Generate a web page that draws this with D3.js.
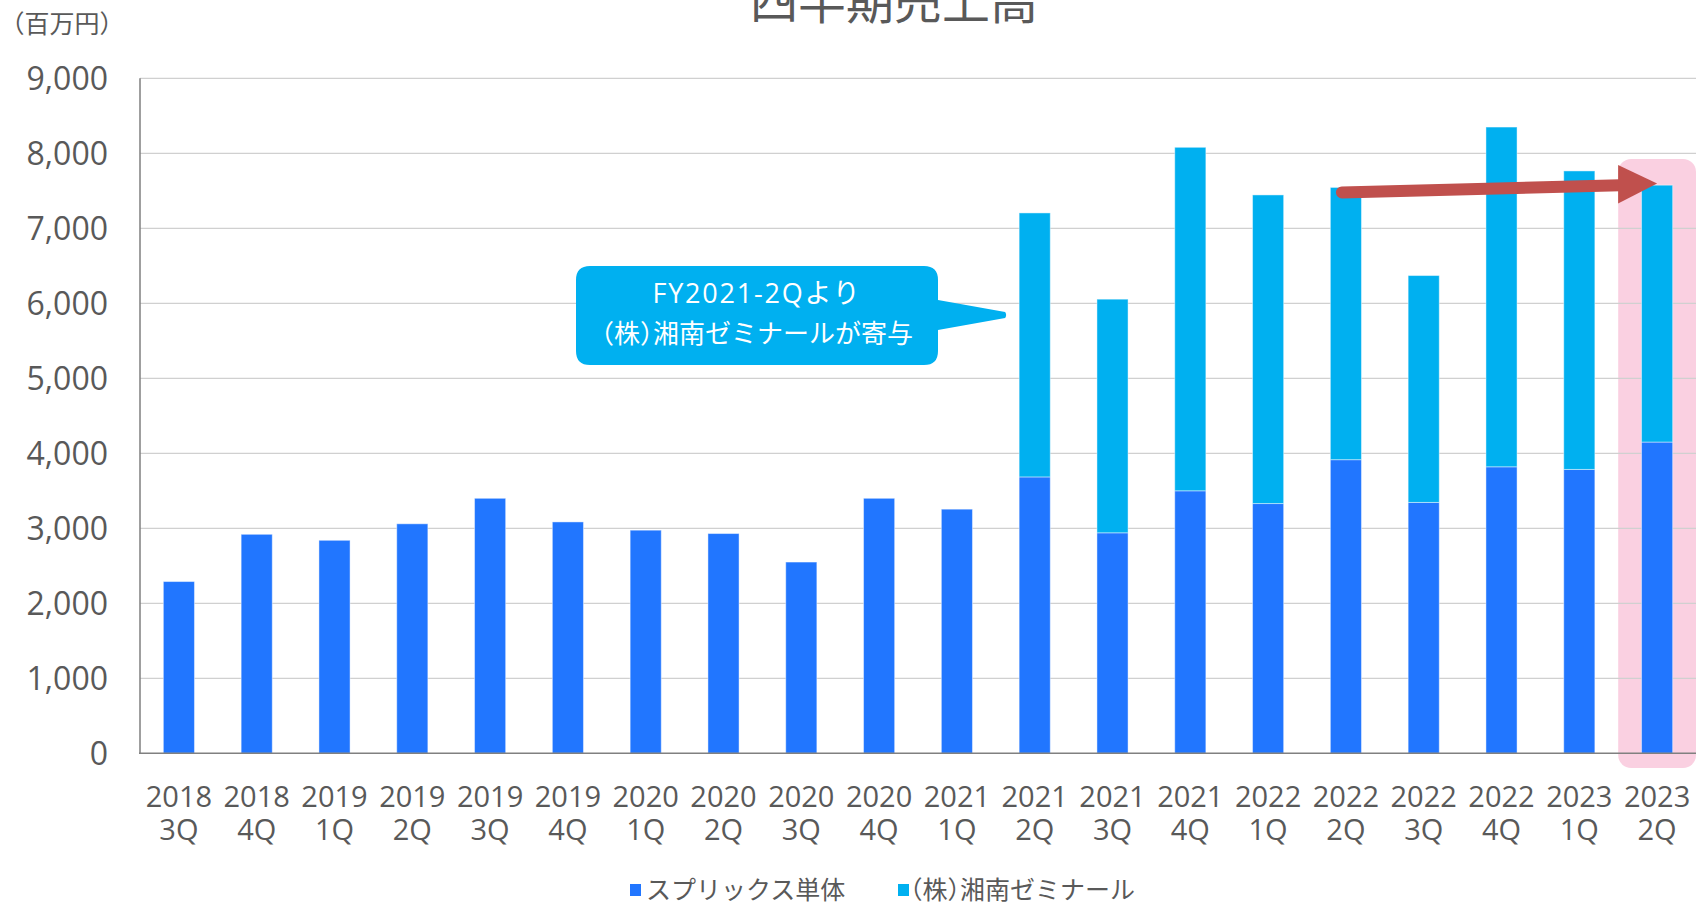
<!DOCTYPE html>
<html>
<head>
<meta charset="utf-8">
<script src="https://cdn.jsdelivr.net/npm/d3@7"></script>
<style>
  body { margin: 0; background: #fff; }
  text { font-family: "Open Sans", "Noto Sans CJK JP", sans-serif; fill: #595959; }
  .jp { font-family: "Noto Sans CJK JP", sans-serif; }
  .half { font-feature-settings: "halt"; }
</style>
</head>
<body>
<svg id="chart" width="1696" height="903"></svg>
<script>
// quarter labels (two lines: year / quarter)
const years = ["2018", "2018", "2019", "2019", "2019", "2019", "2020", "2020", "2020", "2020",
  "2021", "2021", "2021", "2021", "2022", "2022", "2022", "2022", "2023", "2023"];
const quarters = ["3Q", "4Q", "1Q", "2Q", "3Q", "4Q", "1Q", "2Q", "3Q", "4Q",
  "1Q", "2Q", "3Q", "4Q", "1Q", "2Q", "3Q", "4Q", "1Q", "2Q"];

// 百万円
const splixValues = [2290, 2920, 2840, 3060, 3400, 3085, 2975, 2930, 2550, 3400,
  3255, 3685, 2940, 3500, 3330, 3915, 3345, 3820, 3785, 4150];
const shonanValues = [0, 0, 0, 0, 0, 0, 0, 0, 0, 0,
  0, 3520, 3115, 4580, 4115, 3630, 3025, 4530, 3980, 3425];

const seriesNames = ["スプリックス単体", "（株）湘南ゼミナール"];
const yTicks = [0, 1000, 2000, 3000, 4000, 5000, 6000, 7000, 8000, 9000];

const colors = ["#2176FF", "#00B0F0"];

let svg = d3.select("svg#chart");
let plotLeft = 140, plotRight = 1696, plotTop = 78.3, plotBottom = 753.3;

let rows = years.map((y, i) => ({
  key: y + " " + quarters[i],
  year: y,
  q: quarters[i],
  splix: splixValues[i],
  shonan: shonanValues[i]
}));

let x = d3.scaleBand()
  .domain(rows.map(d => d.key))
  .range([plotLeft, plotRight])
  .paddingInner(0.6)
  .paddingOuter(0.3);

let y = d3.scaleLinear().domain([0, 9000]).range([plotBottom, plotTop]);

let step = x.step();

// highlight of the latest quarter
let last = rows[rows.length - 1];
svg.append("rect")
  .attr("x", x(last.key) - step * 0.3)
  .attr("y", 159)
  .attr("width", step)
  .attr("height", 768 - 159)
  .attr("rx", 13)
  .attr("fill", "#FAD0E1");

// gridlines
svg.append("g")
  .selectAll("line")
  .data(yTicks.filter(d => d > 0))
  .join("line")
  .attr("x1", plotLeft).attr("x2", plotRight)
  .attr("y1", d => y(d)).attr("y2", d => y(d))
  .attr("stroke", "#D0D0D0")
  .attr("stroke-width", 1.3);

// bars
let stack = d3.stack().keys(["splix", "shonan"]);
let layers = stack(rows);

svg.append("g")
  .selectAll("g")
  .data(layers)
  .join("g")
  .attr("fill", (d, i) => colors[i])
  .selectAll("rect")
  .data(d => d.filter(p => p[1] > p[0]))
  .join("rect")
  .attr("x", d => x(d.data.key))
  .attr("width", x.bandwidth())
  .attr("y", d => y(d[1]))
  .attr("height", d => y(d[0]) - y(d[1]))
  .attr("stroke", "#ffffff")
  .attr("stroke-opacity", 0.45)
  .attr("stroke-width", 1);

// axes lines
svg.append("line")
  .attr("x1", plotLeft).attr("x2", plotLeft)
  .attr("y1", plotTop).attr("y2", plotBottom)
  .attr("stroke", "#7F7F7F").attr("stroke-width", 1.5);
svg.append("line")
  .attr("x1", plotLeft - 1).attr("x2", plotRight)
  .attr("y1", plotBottom).attr("y2", plotBottom)
  .attr("stroke", "#808080").attr("stroke-width", 1.5);

// y tick labels
svg.append("g")
  .selectAll("text")
  .data(yTicks)
  .join("text")
  .attr("x", 108)
  .attr("y", d => y(d))
  .attr("dy", "0.36em")
  .attr("text-anchor", "end")
  .style("font-size", "32px")
  .text(d => d3.format(",")(d));

// x tick labels
let xl = svg.append("g")
  .selectAll("text")
  .data(rows)
  .join("text")
  .attr("text-anchor", "middle")
  .style("font-size", "29px");
xl.append("tspan")
  .attr("x", d => x(d.key) + x.bandwidth() / 2)
  .attr("y", 806.5)
  .text(d => d.year);
xl.append("tspan")
  .attr("x", d => x(d.key) + x.bandwidth() / 2)
  .attr("y", 839.5)
  .text(d => d.q);

// title (cut off at top) and unit
svg.append("text")
  .attr("class", "jp")
  .attr("x", 894)
  .attr("y", 18.5)
  .attr("text-anchor", "middle")
  .style("font-size", "48px")
  .text("四半期売上高");

svg.append("text")
  .attr("class", "jp")
  .attr("x", 62)
  .attr("y", 33)
  .attr("text-anchor", "middle")
  .style("font-size", "25px")
  .text("（百万円）");

// callout bubble
let bx0 = 576, bx1 = 938, by0 = 266, by1 = 365, r = 14;
let tipX = x(rows[11].key) - 14, tipY = 315;
let bubble = d3.path();
bubble.moveTo(bx0 + r, by0);
bubble.lineTo(bx1 - r, by0);
bubble.quadraticCurveTo(bx1, by0, bx1, by0 + r);
bubble.lineTo(bx1, 300);
bubble.lineTo(tipX, tipY - 3);
bubble.quadraticCurveTo(tipX + 2, tipY, tipX, tipY + 3);
bubble.lineTo(bx1, 330);
bubble.lineTo(bx1, by1 - r);
bubble.quadraticCurveTo(bx1, by1, bx1 - r, by1);
bubble.lineTo(bx0 + r, by1);
bubble.quadraticCurveTo(bx0, by1, bx0, by1 - r);
bubble.lineTo(bx0, by0 + r);
bubble.quadraticCurveTo(bx0, by0, bx0 + r, by0);
bubble.closePath();

svg.append("path")
  .attr("d", bubble.toString())
  .attr("fill", "#00B0F0");

svg.append("text")
  .attr("x", 757).attr("y", 303)
  .attr("text-anchor", "middle")
  .style("font-size", "27px")
  .style("letter-spacing", "1.8px")
  .style("fill", "#ffffff")
  .text("FY2021-2Qより");
svg.append("text")
  .attr("class", "jp half")
  .attr("x", 757).attr("y", 343)
  .attr("text-anchor", "middle")
  .style("font-size", "26px")
  .style("fill", "#ffffff")
  .text("（株）湘南ゼミナールが寄与");

// arrow from 2022 2Q to 2023 2Q
let fromRow = rows[15];
let ax0 = x(fromRow.key) + x.bandwidth() / 2 - 4;
let ay0 = y(fromRow.splix + fromRow.shonan) + 5;
let ax1 = x(last.key) + x.bandwidth() / 2;
let ay1 = 183.5;
let headLen = 39;
svg.append("line")
  .attr("x1", ax0).attr("y1", ay0)
  .attr("x2", ax1 - headLen + 2).attr("y2", ay1 + 1.8)
  .attr("stroke", "#C0504D")
  .attr("stroke-width", 12)
  .attr("stroke-linecap", "round");
svg.append("path")
  .attr("d", "M" + (ax1 - headLen) + "," + (ay1 - 18.5) +
    "L" + ax1 + "," + ay1 +
    "L" + (ax1 - headLen) + "," + (ay1 + 20) + "Z")
  .attr("fill", "#C0504D");

// legend
let legend = svg.append("g")
  .selectAll("g")
  .data(seriesNames)
  .join("g")
  .attr("transform", (d, i) => "translate(" + [630, 898][i] + ",0)");
legend.append("rect")
  .attr("x", 0).attr("y", 884)
  .attr("width", 11).attr("height", 12)
  .attr("fill", (d, i) => colors[i]);
legend.append("text")
  .attr("class", "jp half")
  .attr("x", (d, i) => i == 0 ? 16 : 12)
  .attr("y", 899)
  .style("font-size", "25px")
  .text(d => d);
</script>
</body>
</html>
